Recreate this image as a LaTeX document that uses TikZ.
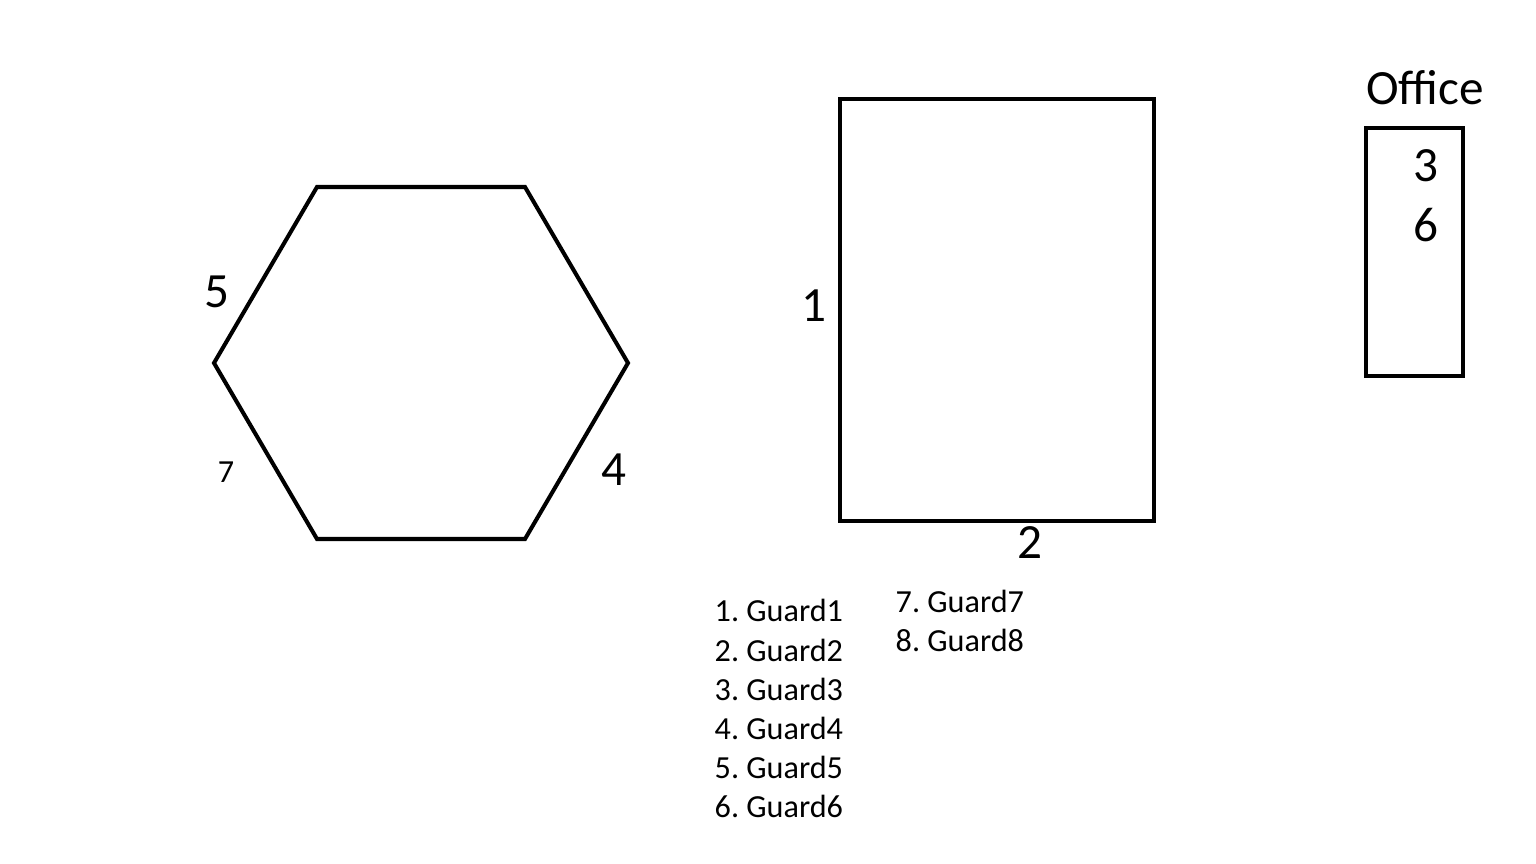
\documentclass[tikz,border=0pt]{standalone}
\usepackage{fontspec}
\setmainfont{Carlito}
\usetikzlibrary{positioning}
\frenchspacing
\tikzset{%
  wall/.style     = {draw, line width = 1.15pt, line join = miter},
  big/.style      = {font = \fontsize{14}{16}\selectfont, inner sep = 0pt},
  small/.style    = {font = \fontsize{9.15}{11}\selectfont, inner sep = 0pt},
  entry/.style    = {small, anchor = base west}
}

\begin{document}
\begin{tikzpicture}[x = 0.01cm, y = -0.01cm]
\useasboundingbox (0,0) rectangle (1536,864);
% shapes
\draw[wall] (317,187) -- (525,187) -- (628,363) -- (525,539) -- (317,539) -- (214,363) -- cycle;
\draw[wall] (840,99) rectangle (1154,521);
\draw[wall] (1366,128) rectangle (1463,376);
% guard posts
\draw
	(217,292) node [big] (g5) {5}
	(226,472) node [small] (g7) {7}
	(614,470) node [big] (g4) {4}
	(814,306) node [big] (g1) {1}
	(1030,543) node [big] (g2) {2}
	(1426,166) node [big] (g3) {3}
	(1426,225) node [big] (g6) {6}
	(1425,88) node [big] (office) {Office};
% legend
\foreach \n/\y in {1/622, 2/661, 3/700, 4/739, 5/778, 6/817}
	\node [entry] (l\n) at (714,\y) {\n. Guard\n};
\foreach \n/\y in {7/613, 8/652}
	\node [entry] (l\n) at (895,\y) {\n. Guard\n};
\end{tikzpicture}
\end{document}
